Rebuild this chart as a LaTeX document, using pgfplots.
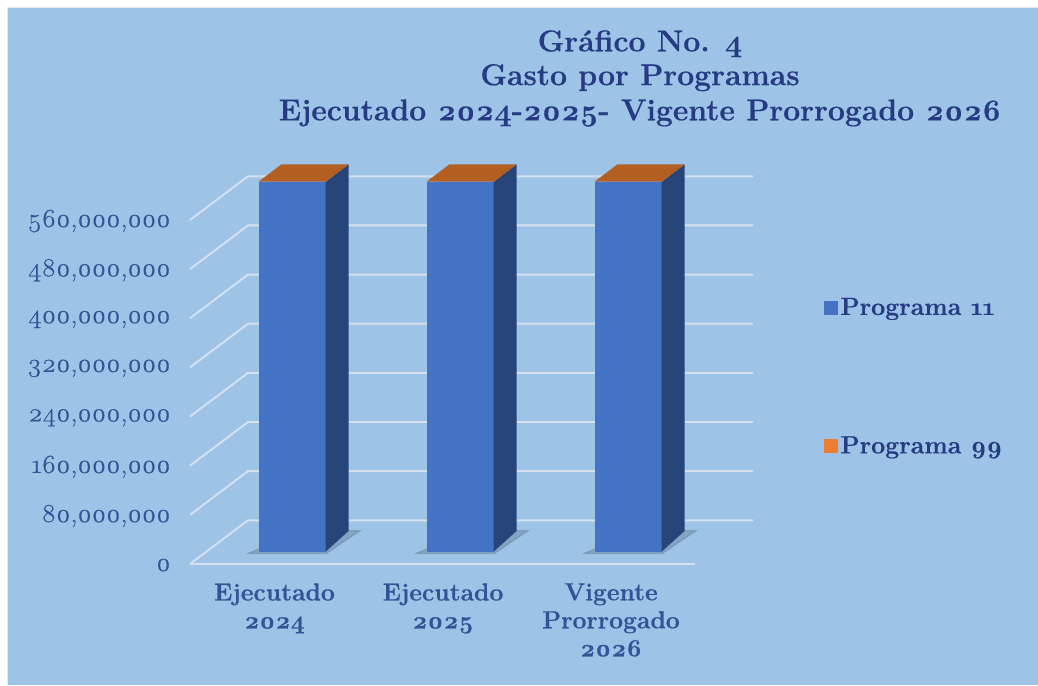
\documentclass[border=0pt]{standalone}
\usepackage{fontspec}
\setmainfont{Latin Modern Roman}[Numbers=OldStyle,BoldFeatures={FakeBold=0.5}]
\newfontfamily\tickfont{Latin Modern Roman}[Numbers=OldStyle,FakeStretch=1.06,FakeBold=0.6]
\usepackage{pgfplots}
\pgfplotsset{compat=1.18}
\definecolor{panel}{HTML}{9DC3E6}
\definecolor{frontblue}{HTML}{4472C4}
\definecolor{sideblue}{HTML}{284579}
\definecolor{toporange}{HTML}{B45F22}
\definecolor{legorange}{HTML}{ED7D31}
\definecolor{gridc}{HTML}{D6DFEC}
\definecolor{titlec}{HTML}{263B84}
\definecolor{axisc}{HTML}{2F5597}
\definecolor{shadowc}{HTML}{6F8BA6}
\begin{document}
\begin{tikzpicture}
  \path[use as bounding box] (0,0) rectangle (778.5pt,513.75pt);
  \fill[white] (0,0) rectangle (778.5pt,513.75pt);
  \fill[gridc!70!white] (5.25pt,0) rectangle (778.5pt,508.5pt);
  \fill[panel] (6.2pt,0) rectangle (778.5pt,507.5pt);
  % title lines
  \node[text=titlec,font=\fontsize{22.6}{23}\selectfont\bfseries] at (480pt,481pt) {Gráfico No. 4};
  \node[text=titlec,font=\fontsize{22.6}{23}\selectfont\bfseries] at (480pt,455.5pt) {Gasto por Programas};
  \node[text=titlec,font=\fontsize{22.6}{23}\selectfont\bfseries] at (480pt,429pt) {Ejecutado 2024-2025- Vigente Prorrogado 2026};
  \begin{axis}[
    at={(142.5pt,90.75pt)}, anchor=south west,
    scale only axis, width=378.75pt, height=258pt,
    xmin=190, xmax=695, ymin=0, ymax=560000000,
    clip=false,
    axis line style={draw=none}, major tick length=0pt,
    ytick={0,80000000,160000000,240000000,320000000,400000000,480000000,560000000},
    scaled y ticks=false,
    yticklabel style={/pgf/number format/fixed,/pgf/number format/1000 sep={,},/pgf/number format/assume math mode=true,
      text=axisc,font=\fontsize{19.5}{20}\tickfont,anchor=east,xshift=-11pt,yshift=-0.8pt},
    xtick={274.5,443,611},
    xticklabels={Ejecutado\\2024,Ejecutado\\2025,Vigente\\Prorrogado\\2026},
    xticklabel style={text=axisc,font=\fontsize{18.5}{21}\selectfont\bfseries,align=center,anchor=north,yshift=-11pt},
    legend image code/.code={\fill[#1] (0pt,-4.9pt) rectangle (9.8pt,4.9pt);},
    legend cell align=left,
    legend style={draw=none,fill=none,at={(1.2475,0.79)},anchor=north west,
      font=\fontsize{18.7}{19}\selectfont\bfseries,text=titlec,row sep=85.5pt},
  ]
    % floor and back wall grid
    \addplot[gridc,line width=1.5pt,forget plot] coordinates {(190,0) (695,0)};
    \addplot[gridc,line width=1.5pt,forget plot] coordinates {(190,0) (248,71200000) (753,71200000)};
    \addplot[gridc,line width=1.5pt,forget plot] coordinates {(190,80000000) (248,151200000) (753,151200000)};
    \addplot[gridc,line width=1.5pt,forget plot] coordinates {(190,160000000) (248,231200000) (753,231200000)};
    \addplot[gridc,line width=1.5pt,forget plot] coordinates {(190,240000000) (248,311200000) (753,311200000)};
    \addplot[gridc,line width=1.5pt,forget plot] coordinates {(190,320000000) (248,391200000) (753,391200000)};
    \addplot[gridc,line width=1.5pt,forget plot] coordinates {(190,400000000) (248,471200000) (753,471200000)};
    \addplot[gridc,line width=1.5pt,forget plot] coordinates {(190,480000000) (248,551200000) (753,551200000)};
    \addplot[gridc,line width=1.5pt,forget plot] coordinates {(190,560000000) (248,631200000) (753,631200000)};
    % bar 1
    \addplot[fill=shadowc,draw=shadowc,line width=1pt,opacity=.55,forget plot] coordinates {(248,17000000) (326,17000000) (360,54200000) (349,54200000) (326,24000000) (258,24000000)} --cycle;
    \addplot[fill=frontblue,draw=none,forget plot] coordinates {(258.5,20000000) (325.7,20000000) (325.7,622300000) (258.5,622300000)} --cycle;
    \addplot[fill=sideblue,draw=none,forget plot] coordinates {(325.7,20000000) (348.7,54200000) (348.7,650700000) (325.7,622300000)} --cycle;
    \addplot[fill=toporange,draw=none,forget plot] coordinates {(258.5,622300000) (325.7,622300000) (348.7,650700000) (281.5,650700000)} --cycle;
    % bar 2
    \addplot[fill=shadowc,draw=shadowc,line width=1pt,opacity=.55,forget plot] coordinates {(416,17000000) (494,17000000) (528,54200000) (517,54200000) (494,24000000) (426,24000000)} --cycle;
    \addplot[fill=frontblue,draw=none,forget plot] coordinates {(426.5,20000000) (493.7,20000000) (493.7,622300000) (426.5,622300000)} --cycle;
    \addplot[fill=sideblue,draw=none,forget plot] coordinates {(493.7,20000000) (516.7,54200000) (516.7,650700000) (493.7,622300000)} --cycle;
    \addplot[fill=toporange,draw=none,forget plot] coordinates {(426.5,622300000) (493.7,622300000) (516.7,650700000) (449.5,650700000)} --cycle;
    % bar 3
    \addplot[fill=shadowc,draw=shadowc,line width=1pt,opacity=.55,forget plot] coordinates {(584,17000000) (662,17000000) (696,54200000) (685,54200000) (662,24000000) (594,24000000)} --cycle;
    \addplot[fill=frontblue,draw=none,forget plot] coordinates {(594.5,20000000) (661.7,20000000) (661.7,622300000) (594.5,622300000)} --cycle;
    \addplot[fill=sideblue,draw=none,forget plot] coordinates {(661.7,20000000) (684.7,54200000) (684.7,650700000) (661.7,622300000)} --cycle;
    \addplot[fill=toporange,draw=none,forget plot] coordinates {(594.5,622300000) (661.7,622300000) (684.7,650700000) (617.5,650700000)} --cycle;
    \addlegendimage{frontblue}
    \addlegendentry{Programa 11}
    \addlegendimage{legorange}
    \addlegendentry{Programa 99}
  \end{axis}
\end{tikzpicture}
\end{document}
